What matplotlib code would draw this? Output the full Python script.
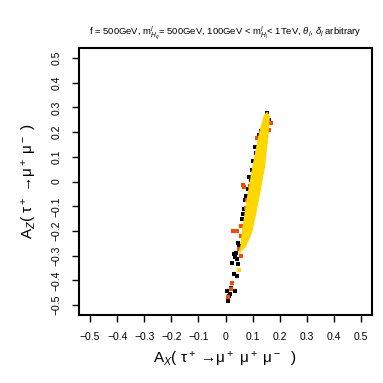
import numpy as np
import matplotlib
matplotlib.use("Agg")
import matplotlib.pyplot as plt

plt.rcParams['font.family'] = ['Liberation Sans', 'DejaVu Sans']
plt.rcParams['mathtext.fontset'] = 'custom'
plt.rcParams['mathtext.rm'] = 'Liberation Sans'
plt.rcParams['mathtext.it'] = 'Liberation Sans:italic'

# black points (A_x, A_z)
black_x = [0.154, 0.130, 0.124, 0.114, 0.097, 0.093, 0.075, 0.071, 0.068, 0.062,
           0.058, 0.056, 0.050, 0.038, 0.044, 0.031, 0.025, 0.047, 0.031, 0.044,
           0.019, 0.007, 0.035, 0.013, 0.010, 0.161, 0.151, 0.108, 0.087, 0.065,
           0.103, 0.082, 0.045, 0.034, 0.016]
black_y = [0.279, 0.203, 0.190, 0.116, 0.048, 0.008, -0.059, -0.073, -0.113, -0.153,
           -0.180, -0.221, -0.261, -0.288, -0.315, -0.294, -0.328, -0.335, -0.375, -0.382,
           -0.429, -0.442, -0.442, -0.462, -0.483, 0.250, 0.183, 0.140, 0.020, -0.130,
           0.085, -0.030, -0.250, -0.305, -0.455]

# orange points
orange_x = [0.117, 0.167, 0.066, 0.068, 0.080, 0.075, 0.056, 0.029, 0.036, 0.044,
            0.068, 0.056, 0.050, 0.056, 0.025, 0.019, 0.010, 0.160, 0.090]
orange_y = [0.176, 0.237, -0.016, -0.021, -0.073, -0.106, -0.180, -0.200, -0.200, -0.200,
            -0.200, -0.221, -0.274, -0.301, -0.411, -0.435, -0.469, 0.210, -0.020]

# yellow region outline
band_x = [0.154, 0.162, 0.155, 0.144, 0.122, 0.097, 0.074, 0.050,
          0.057, 0.062, 0.080, 0.101, 0.126, 0.143]
band_y = [0.280, 0.262, 0.169, 0.060, -0.073, -0.206, -0.262, -0.290,
          -0.261, -0.206, -0.073, 0.060, 0.198, 0.266]
yellow_x = [0.050]
yellow_y = [-0.358]

ticks = [-0.5, -0.4, -0.3, -0.2, -0.1, 0, 0.1, 0.2, 0.3, 0.4, 0.5]
tick_labels = ['\u22120.5', '\u22120.4', '\u22120.3', '\u22120.2', '\u22120.1', '0',
               '0.1', '0.2', '0.3', '0.4', '0.5']

fig = plt.figure(figsize=(3.83, 3.83), dpi=100)
ax = fig.add_axes([0.205, 0.1775, 0.7655, 0.697])

ax.scatter(black_x, black_y, s=9, marker='s', c='black', linewidths=0, zorder=2)
ax.scatter(orange_x, orange_y, s=8, marker='s', c='#FF4500', linewidths=0, zorder=3)
ax.fill(band_x, band_y, color='#FFD700', lw=0.8, ec='#FFD700', zorder=4)
ax.scatter(yellow_x, yellow_y, s=8, marker='s', c='#FFD700', linewidths=0, zorder=4)

ax.set_xlim(-0.543, 0.540)
ax.set_ylim(-0.540, 0.540)
ax.set_xticks(ticks)
ax.set_xticklabels(tick_labels, fontsize=7.5)
ax.set_yticks(ticks)
ax.set_yticklabels(tick_labels, fontsize=7.5, rotation=90, va='center')
ax.tick_params(direction='out', length=5, width=1, pad=7)
for sp in ax.spines.values():
    sp.set_linewidth(1.5)

ax.set_xlabel('A$_X$( \u03c4$^+$ \u2192\u03bc$^+$ \u03bc$^+$ \u03bc$^-$  )', fontsize=11, labelpad=6)
ax.set_ylabel('A$_Z$( \u03c4$^+$ \u2192\u03bc$^+$ \u03bc$^-$ )', fontsize=11, labelpad=9)

fig.text(0.587, 0.914,
         r'f = 500GeV, m$^l_{H_q}$= 500GeV, 100GeV < m$^l_{H_l}$< 1TeV, $\theta_l$, $\delta_l$ arbitrary',
         ha='center', va='center', fontsize=6.8)

fig.savefig("out.png", dpi=100)
